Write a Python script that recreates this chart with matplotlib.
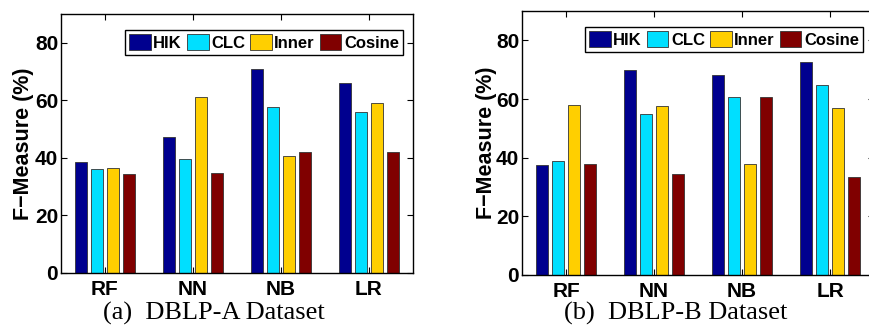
import matplotlib.pyplot as plt
import numpy as np

plt.rcParams['font.family'] = ['Liberation Sans', 'DejaVu Sans']

classifiers = ['RF', 'NN', 'NB', 'LR']
kernels = ['HIK', 'CLC', 'Inner', 'Cosine']
colors = ['#00008F', '#00DFFF', '#FFCF00', '#800000']

# F-measure per kernel, one value per classifier
dblp_a = {
    'HIK':    [38.6, 47.2, 71.0, 65.9],
    'CLC':    [36.1, 39.7, 57.6, 56.1],
    'Inner':  [36.6, 61.3, 40.8, 58.9],
    'Cosine': [34.3, 34.7, 41.9, 42.2],
}
dblp_b = {
    'HIK':    [37.4, 70.0, 68.2, 72.5],
    'CLC':    [38.9, 55.0, 60.6, 64.8],
    'Inner':  [58.1, 57.6, 37.8, 57.1],
    'Cosine': [37.7, 34.4, 60.7, 33.5],
}


def grouped_bars(ax, data, legend_anchor, ylabel_x):
    n = len(kernels)
    gw = min(0.8, n / (n + 1.5))
    step = gw / n
    x = np.arange(1, len(classifiers) + 1)
    for i, k in enumerate(kernels):
        off = (i - (n - 1) / 2) * step
        ax.bar(x + off, data[k], width=step * 0.8, color=colors[i],
               edgecolor='#333333', linewidth=0.6, label=k)
    ax.set_xlim(0.5, 4.5)
    ax.set_ylim(0, 90)
    ax.set_xticks(x)
    ax.set_xticklabels(classifiers)
    ax.set_yticks([0, 20, 40, 60, 80])
    ax.tick_params(direction='in', length=4, width=0.8, top=True, right=True,
                   labelsize=15)
    ax.tick_params(axis='y', pad=2)
    ax.tick_params(axis='x', pad=5)
    for lab in ax.get_xticklabels() + ax.get_yticklabels():
        lab.set_fontweight('bold')
    for s in ax.spines.values():
        s.set_linewidth(1.0)
    ax.set_ylabel('F\u2212Measure (%)', fontsize=15.5, fontweight='bold')
    ax.yaxis.set_label_coords(ylabel_x, 0.5)
    leg = ax.legend(loc='upper right', bbox_to_anchor=legend_anchor, ncol=4,
                    fancybox=False, edgecolor='black', framealpha=1,
                    handlelength=1.3, handleheight=1.1, handletextpad=0.15,
                    columnspacing=0.3, borderpad=0.25, borderaxespad=0,
                    prop={'weight': 'bold', 'size': 12})
    leg.get_frame().set_linewidth(1.0)


fig = plt.figure(figsize=(8.7, 3.25), dpi=100)
ax1 = fig.add_axes([0.0701, 0.16, 0.4046, 0.797])
ax2 = fig.add_axes([0.60, 0.154, 0.4046, 0.812])

grouped_bars(ax1, dblp_a, (0.972, 0.938), -0.077)
grouped_bars(ax2, dblp_b, (0.969, 0.94), -0.072)

fig.text(0.246, 0.016, '(a)  DBLP-A Dataset', ha='center', va='baseline',
         family='Liberation Serif', fontsize=19)
fig.text(0.777, 0.016, '(b)  DBLP-B Dataset', ha='center', va='baseline',
         family='Liberation Serif', fontsize=19)

fig.savefig('out.png', dpi=100)
